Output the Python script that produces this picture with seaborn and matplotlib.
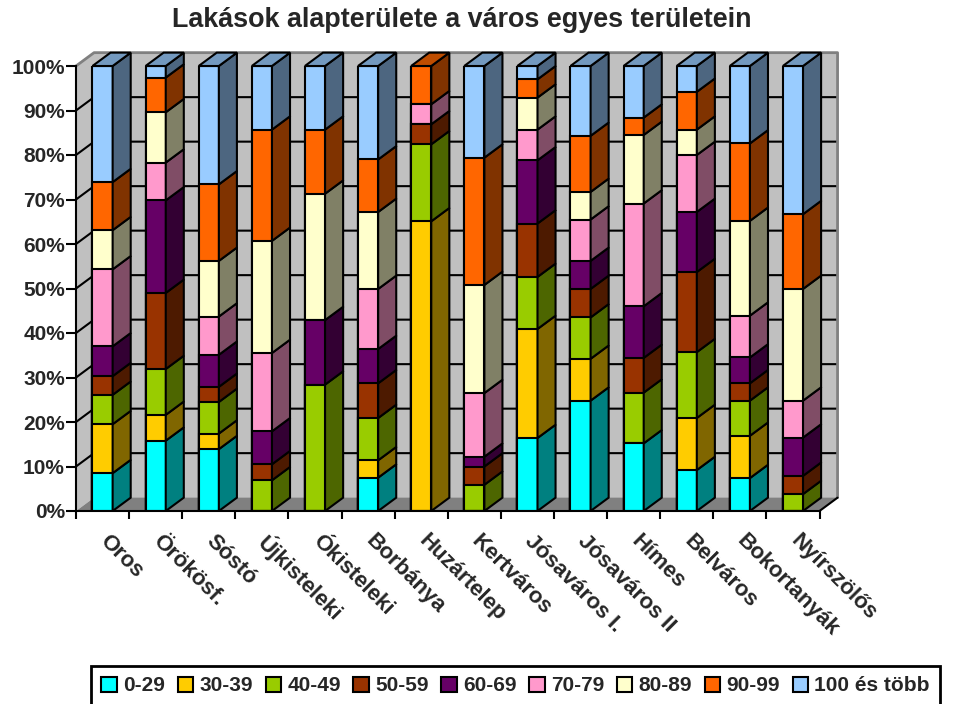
import matplotlib
matplotlib.use("Agg")
import matplotlib.pyplot as plt
from matplotlib.patches import Polygon, Patch
from matplotlib.colors import to_rgb
from matplotlib.transforms import ScaledTranslation
import seaborn as sns
import pandas as pd
import numpy as np

# values (share of flats in %, per district)
districts = ["Oros", "Örökösf.", "Sóstó", "Újkisteleki", "Ókisteleki", "Borbánya",
             "Huzártelep", "Kertváros", "Jósaváros I.", "Jósaváros II", "Hímes",
             "Belváros", "Bokortanyák", "Nyírszölős"]
bands = ["0-29", "30-39", "40-49", "50-59", "60-69", "70-79", "80-89", "90-99", "100 és több"]

s_0_29 = [8.5, 15.8, 13.9, 0, 0, 7.5, 0, 0, 16.4, 24.8, 15.2, 9.2, 7.4, 0]
s_30_39 = [11.0, 5.8, 3.5, 0, 0, 3.9, 65.1, 0, 24.5, 9.4, 0, 11.7, 9.5, 0]
s_40_49 = [6.6, 10.3, 7.1, 6.9, 28.4, 9.5, 17.3, 5.9, 11.7, 9.3, 11.4, 14.8, 7.9, 3.8]
s_50_59 = [4.2, 17.1, 3.4, 3.6, 0, 7.8, 4.5, 4.1, 12.0, 6.4, 7.8, 18.0, 3.9, 4.1]
s_60_69 = [6.7, 20.8, 7.2, 7.4, 14.5, 7.7, 0, 2.2, 14.2, 6.3, 11.6, 13.5, 5.8, 8.6]
s_70_79 = [17.3, 8.5, 8.6, 17.6, 0, 13.5, 4.5, 14.3, 6.9, 9.3, 23.1, 12.8, 9.4, 8.3]
s_80_89 = [8.8, 11.3, 12.5, 25.2, 28.4, 17.3, 0, 24.3, 7.2, 6.2, 15.4, 5.7, 21.3, 25.1]
s_90_99 = [10.8, 7.8, 17.2, 25.0, 14.4, 11.8, 8.6, 28.6, 4.1, 12.6, 3.9, 8.5, 17.4, 16.8]
s_100 = [26.1, 2.6, 26.6, 14.3, 14.3, 21.0, 0, 20.6, 3.0, 15.7, 11.6, 5.8, 17.4, 33.3]

colors = ["#00FFFF", "#FFCC00", "#99CC00", "#993300", "#660066",
          "#FF99CC", "#FFFFCC", "#FF6600", "#99CCFF"]

sns.set_style("white")
plt.rcParams['font.family'] = ['Liberation Sans', 'DejaVu Sans']
plt.rcParams['font.weight'] = 'bold'

series = [s_0_29, s_30_39, s_40_49, s_50_59, s_60_69, s_70_79, s_80_89, s_90_99, s_100]
df = pd.DataFrame(dict(zip(bands, series)), index=districts)
df = df.div(df.sum(axis=1), axis=0) * 100  # 100% stacked
cum = df.cumsum(axis=1)
base = cum - df

fig = plt.figure(figsize=(9.57, 7.04), dpi=100)
ax = fig.add_axes([76 / 957, 1 - 511 / 704, (819.5 - 76) / 957, (511 - 66) / 704])

W = 0.38          # bar width (category units)
DX, DY = 0.34, 3.0  # 3d depth offset (category units, percent)
n = len(districts)
x0, x1 = -0.5, n - 0.5

# walls and floor
ax.add_patch(Polygon([(x0 + DX, DY), (x1 + DX, DY), (x1 + DX, 100 + DY), (x0 + DX, 100 + DY)],
                     facecolor="#C0C0C0", edgecolor="none", zorder=0.2, clip_on=False))
ax.add_patch(Polygon([(x0, 0), (x0 + DX, DY), (x0 + DX, 100 + DY), (x0, 100)],
                     facecolor="#C0C0C0", edgecolor="none", zorder=0.2, clip_on=False))
ax.add_patch(Polygon([(x0, 0), (x1, 0), (x1 + DX, DY), (x0 + DX, DY)],
                     facecolor="#808080", edgecolor="none", zorder=0.3, clip_on=False))
for v in range(10, 100, 10):
    ax.plot([x0, x0 + DX, x1 + DX], [v, v + DY, v + DY], color="black", lw=1.5,
            zorder=0.5, clip_on=False, solid_capstyle="butt")
ax.plot([x0, x0 + DX, x1 + DX, x1 + DX], [100, 100 + DY, 100 + DY, DY], color="#808080",
        lw=2, zorder=0.5, clip_on=False)
ax.plot([x1, x1 + DX], [0, DY], color="black", lw=1.5, zorder=0.6, clip_on=False)

# front faces, drawn tallest first so the stack shows through
for k in range(len(bands) - 1, -1, -1):
    sns.barplot(x=districts, y=cum.iloc[:, k].values, color=colors[k], saturation=1,
                width=W, edgecolor="black", linewidth=1.5, errorbar=None, ax=ax, zorder=3)

# side and top faces
for i in range(n):
    xr = i + W / 2
    for k, b in enumerate(bands):
        lo, hi = base.iloc[i, k], cum.iloc[i, k]
        if hi - lo <= 0.01:
            continue
        side = tuple(0.5 * c for c in to_rgb(colors[k]))
        ax.add_patch(Polygon([(xr, lo), (xr + DX, lo + DY), (xr + DX, hi + DY), (xr, hi)],
                             facecolor=side, edgecolor="black", lw=1.5, zorder=3,
                             clip_on=False, joinstyle="miter"))
        top_k = k
    top = tuple(0.75 * c for c in to_rgb(colors[top_k]))
    ax.add_patch(Polygon([(i - W / 2, 100), (xr, 100), (xr + DX, 100 + DY), (i - W / 2 + DX, 100 + DY)],
                         facecolor=top, edgecolor="black", lw=1.5, zorder=3,
                         clip_on=False, joinstyle="miter"))

ax.set_xlim(x0, x1)
ax.set_ylim(0, 100)
ax.set_xlabel("")
ax.set_ylabel("")
ax.set_facecolor("none")
for s in ["top", "right"]:
    ax.spines[s].set_visible(False)
for s in ["left", "bottom"]:
    ax.spines[s].set_color("black")
    ax.spines[s].set_linewidth(1.5)
    ax.spines[s].set_zorder(4)

ax.set_yticks(range(0, 101, 10))
ax.set_yticklabels([f"{v}%" for v in range(0, 101, 10)])
ax.tick_params(axis="y", left=True, direction="out", length=7, width=1.5,
               color="black", pad=1, labelsize=15)

ax.set_xticks(range(n))
ax.set_xticklabels(districts, rotation=-45, ha="left", rotation_mode="anchor", fontsize=16)
ax.set_xticks(np.arange(x0, x1 + 0.01, 1), minor=True)
ax.tick_params(axis="x", which="major", length=0, pad=14)
ax.tick_params(axis="x", which="minor", bottom=True, direction="out", length=6,
               width=1.5, color="black")
shift = ScaledTranslation(8 / 100, 0, fig.dpi_scale_trans)
for lab in ax.get_xticklabels():
    lab.set_transform(lab.get_transform() + shift)

fig.text(462 / 957, 1 - 20 / 704, "Lakások alapterülete a város egyes területein",
         ha="center", va="center", fontsize=19.4, fontweight="bold")

handles = [Patch(facecolor=c, edgecolor="black", linewidth=1.5, label=b)
           for c, b in zip(colors, bands)]
leg = fig.legend(handles=handles, loc="upper left", bbox_to_anchor=(91 / 957, 1 - 666 / 704),
                 ncol=9, frameon=True, fancybox=False, framealpha=1, edgecolor="black",
                 fontsize=15, handlelength=0.75, handleheight=0.75, handletextpad=0.3,
                 columnspacing=0.6, borderpad=0.5, borderaxespad=0)
leg.get_frame().set_linewidth(2)

fig.savefig("out.png", dpi=100)
